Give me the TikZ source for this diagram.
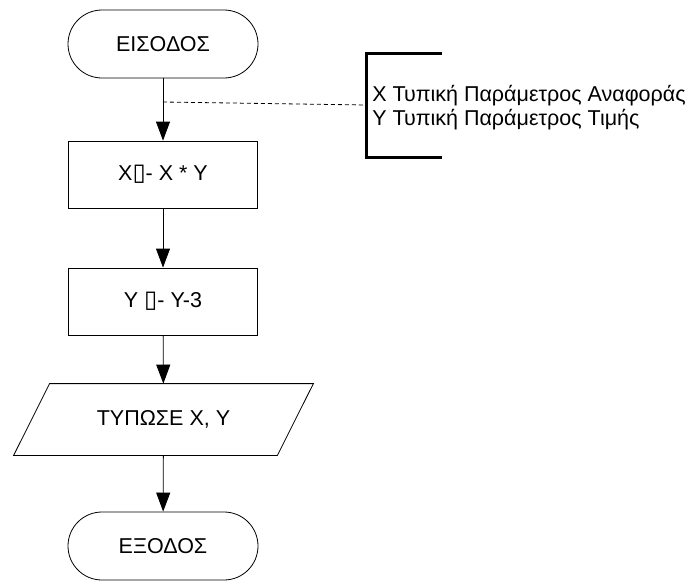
\documentclass[tikz,border=0pt]{standalone}
\usepackage{fontspec}
\setmainfont{Liberation Sans}
\newfontfamily\boxfont{DejaVu Sans}
\usetikzlibrary{arrows.meta}

\tikzset{
  terminal/.style={draw,rectangle,rounded corners=34pt,minimum width=190pt,minimum height=68pt,inner sep=0pt},
  process/.style={draw,rectangle,minimum width=189pt,minimum height=67pt,inner sep=0pt},
  io/.style={rectangle,minimum width=263pt,minimum height=71pt,inner sep=0pt},
}
\newcommand{\tofu}{{\boxfont\fontsize{24}{24}\selectfont ▯}}

\begin{document}
\begin{tikzpicture}[x=1pt,y=-1pt,line width=0.8pt,>={Triangle[length=19pt,width=14pt]},font=\fontsize{21.5}{24}\selectfont]
  \useasboundingbox (0,0) rectangle (699,581);

  % flow chart
  \node[terminal] (start) at (163,44) {ΕΙΣΟΔΟΣ};
  \node[process] (calcx) at (163,174.5) {X\tofu- X * Y};
  \node[process] (calcy) at (163,301.5) {Y \tofu- Y-3};
  \node[io] (print) at (163.5,419.5) {ΤΥΠΩΣΕ Χ, Υ};
  \node[terminal] (stop) at (163,546) {ΕΞΟΔΟΣ};
  \draw ([xshift=18pt]print.north west) -- ([xshift=18pt]print.north east)
     -- ([xshift=-18pt]print.south east) -- ([xshift=-18pt]print.south west) -- cycle;

  \draw[->] (start) -- (calcx);
  \draw[->] (calcx) -- (calcy);
  \draw[->] (calcy) -- (print);
  \draw[->] (print) -- (stop);

  % comment on the parameters
  \node[anchor=west,align=left,inner sep=0pt] (params) at (372,108) {Χ Τυπική Παράμετρος Αναφοράς\\Υ Τυπική Παράμετρος Τιμής};
  \draw[line width=3pt] (442,53) -- (366,53) -- (366,157) -- (442,157);
  \coordinate (tap) at (163,102);
  \coordinate (brace) at (366,105);
  \draw[dash pattern=on 4pt off 3pt] (tap) -- (brace);
\end{tikzpicture}
\end{document}
